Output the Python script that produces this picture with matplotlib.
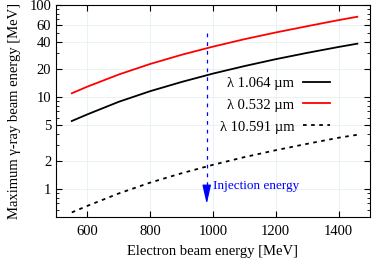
import matplotlib
matplotlib.use('Agg')
import matplotlib.pyplot as plt
import numpy as np

# electron beam energy [MeV]
electronEnergy = [550, 600, 700, 800, 900, 1000, 1100, 1200, 1300, 1400, 1460]
# maximum gamma-ray energy [MeV]
gamma1064 = [5.5, 6.5, 8.9, 11.6, 14.6, 18.0, 21.7, 25.8, 30.2, 35.0, 38.0]
gamma532 = [11.0, 13.0, 17.6, 22.9, 28.8, 35.3, 42.5, 50.3, 58.8, 68.5, 74.5]
gamma10591 = [0.56, 0.66, 0.90, 1.18, 1.49, 1.84, 2.23, 2.65, 3.11, 3.62, 3.9]
labels = ['λ 1.064 µm', 'λ 0.532 µm', 'λ 10.591 µm']
injectionEnergy = 980
injectionLabel = 'Injection energy'
xTicks = [600, 800, 1000, 1200, 1400]
yTicks = [1, 2, 5, 10, 20, 40, 60, 100]

plt.rcParams['font.family'] = ['Liberation Serif', 'DejaVu Serif']
plt.rcParams['font.size'] = 10.5

fig = plt.figure(figsize=(3.74, 2.62), dpi=100)
ax = fig.add_axes([0.150, 0.172, 0.839, 0.809])

ax.plot(electronEnergy, gamma1064, color='black', lw=1.3, label=labels[0])
ax.plot(electronEnergy, gamma532, color='red', lw=1.3, label=labels[1])
ax.plot(electronEnergy, gamma10591, color='black', lw=1.3, ls=(0, (2, 2.5)), label=labels[2])

# injection energy marker
ax.plot([injectionEnergy, injectionEnergy], [50, 0.95], color='blue', lw=0.9, ls=(0, (3, 4)))
ax.annotate('', xy=(injectionEnergy, 0.69), xytext=(injectionEnergy, 1.0),
            arrowprops=dict(arrowstyle='-|>,head_length=1.1,head_width=0.25', color='blue', lw=0.9,
                            shrinkA=0, shrinkB=0))
ax.text(injectionEnergy + 20, 1.08, injectionLabel, color='blue', fontsize=9.5, va='center', ha='left')

ax.set_yscale('log')
ax.set_xlim(500, 1500)
ax.set_ylim(0.5, 100)
ax.set_xticks(xTicks)
ax.set_yticks(yTicks)
ax.set_yticklabels([str(t) for t in yTicks])
ax.yaxis.set_minor_formatter(matplotlib.ticker.NullFormatter())
ax.tick_params(which='both', direction='in', top=True, right=True, labelsize=10.5)
ax.tick_params(which='major', length=4)
ax.tick_params(which='minor', length=2)
ax.tick_params(axis='x', pad=5.5)
ax.grid(True, which='major', color='#e8f0f0', lw=0.6)

ax.set_xlabel('Electron beam energy [MeV]', fontsize=10.5, labelpad=5)
ax.set_ylabel('Maximum γ-ray beam energy [MeV]', fontsize=10.5, labelpad=6)

leg = ax.legend(loc='upper right', bbox_to_anchor=(0.873, 0.663), frameon=False, markerfirst=False,
                handlelength=1.85, handletextpad=0.6, borderpad=0, borderaxespad=0,
                fontsize=10.5, labelspacing=0.6)

fig.savefig('out.png', dpi=100)
